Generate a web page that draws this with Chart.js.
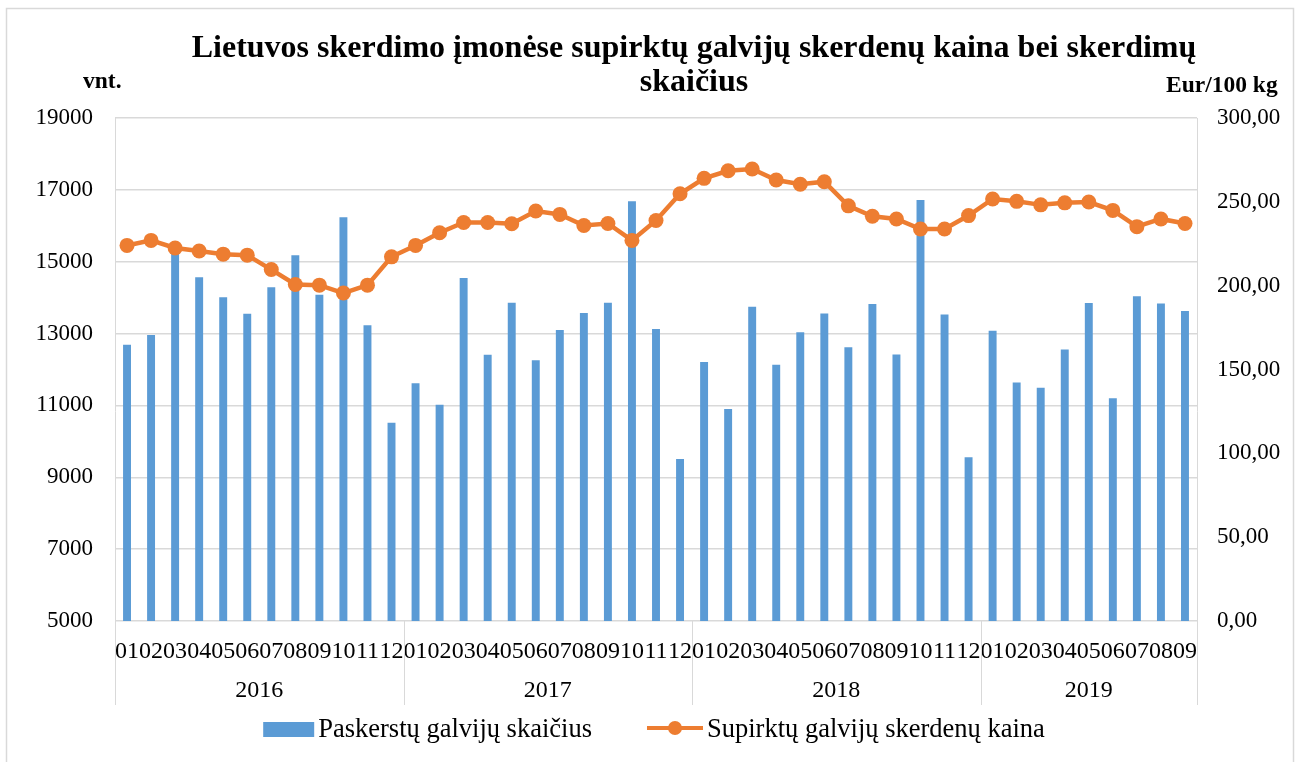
<!DOCTYPE html>
<html>
<head>
<meta charset="utf-8">
<script src="https://cdn.jsdelivr.net/npm/chart.js@4"></script>
<style>
  html, body { margin: 0; padding: 0; background: #fff; }
</style>
</head>
<body>
<canvas id="chart-1" width="1302" height="762"></canvas>
<script>
// months shown under each bar, grouped by year
const monthLabels = ["01", "02", "03", "04", "05", "06", "07", "08", "09", "10", "11", "12"];
const years = ["2016", "2017", "2018", "2019"];
const monthsPerYear = [12, 12, 12, 9];

// Paskerstų galvijų skaičius (vnt.)
const slaughtered = [
  12690, 12960, 15370, 14570, 14010, 13550, 14290, 15180, 14080, 16240, 13230, 10520,
  11620, 11020, 14550, 12410, 13860, 12260, 13100, 13570, 13860, 16680, 13130, 9510,
  12210, 10900, 13750, 12130, 13040, 13560, 12620, 13820, 12420, 16720, 13530, 9560,
  13080, 11640, 11490, 12560, 13850, 11200, 14040, 13840, 13630,
];

// Supirktų galvijų skerdenų kaina (Eur/100 kg)
const price = [
  224.0, 227.0, 222.5, 220.7, 218.8, 218.2, 209.6, 200.7, 200.3, 195.6, 200.3, 217.2,
  224.0, 231.6, 237.7, 237.7, 236.9, 244.5, 242.5, 235.9, 237.1, 227.0, 238.9, 254.8,
  264.0, 268.5, 269.6, 263.0, 260.5, 262.0, 247.6, 241.4, 239.8, 233.8, 233.8, 241.8,
  251.7, 250.3, 248.2, 249.4, 249.9, 244.9, 235.2, 239.8, 237.1,
];

const titleLines = [
  "Lietuvos skerdimo įmonėse supirktų galvijų skerdenų kaina bei skerdimų",
  "skaičius",
];
const leftUnit = "vnt.";
const rightUnit = "Eur/100 kg";

const barColor = "#5b9bd5";
const lineColor = "#ed7d31";
const gridColor = "#d9d9d9";
const serif = "'Liberation Serif', 'Times New Roman', serif";

// category labels built from the month list
const labels = [];
monthsPerYear.forEach((n) => {
  for (let i = 0; i < n; i++) labels.push(monthLabels[i]);
});

// extra drawing: title, units, year row, separators, legend, outer frame
const decor = {
  id: "decor",
  afterDraw(chart) {
    const ctx = chart.ctx;
    const area = chart.chartArea;
    const xs = chart.scales.x;
    const axisBottom = xs.bottom;
    ctx.save();

    // outer frame
    ctx.strokeStyle = gridColor;
    ctx.lineWidth = 1.5;
    ctx.strokeRect(6.5, 8.5, 1287, 800);

    // title
    ctx.fillStyle = "#000";
    ctx.textAlign = "center";
    ctx.textBaseline = "alphabetic";
    ctx.font = "bold 32px " + serif;
    ctx.fillText(titleLines[0], 694, 57);
    ctx.fillText(titleLines[1], 694, 91);

    // axis units
    ctx.font = "bold 23.5px " + serif;
    ctx.textAlign = "left";
    ctx.fillText(leftUnit, 83, 88);
    ctx.fillText(rightUnit, 1166, 92);

    // group separators and years
    ctx.strokeStyle = gridColor;
    ctx.lineWidth = 1;
    const vline = (x, y0, y1) => {
      ctx.beginPath();
      ctx.moveTo(Math.round(x) + 0.5, y0);
      ctx.lineTo(Math.round(x) + 0.5, y1);
      ctx.stroke();
    };
    vline(area.left, area.top, axisBottom);
    vline(area.right, area.top, axisBottom);
    ctx.font = "24px " + serif;
    ctx.textAlign = "center";
    ctx.textBaseline = "middle";
    let start = 0;
    years.forEach((yr, i) => {
      const end = start + monthsPerYear[i] - 1;
      const left = start === 0 ? area.left
        : (xs.getPixelForValue(start - 1) + xs.getPixelForValue(start)) / 2;
      const right = end === labels.length - 1 ? area.right
        : (xs.getPixelForValue(end) + xs.getPixelForValue(end + 1)) / 2;
      if (end < labels.length - 1) vline(right, area.bottom, axisBottom);
      ctx.fillText(yr, (left + right) / 2, 691);
      start = end + 1;
    });

    // legend
    const items = chart.data.datasets.map((d) => d.label);
    ctx.font = "26.5px " + serif;
    const sw = [51, 56];
    const gap = 4;
    const between = 55;
    const widths = items.map((t, i) => sw[i] + gap + ctx.measureText(t).width);
    let lx = 654 - (widths[0] + widths[1] + between) / 2;
    const ly = 729;
    ctx.textAlign = "left";
    ctx.textBaseline = "middle";
    // bar swatch
    ctx.fillStyle = barColor;
    ctx.fillRect(lx, ly - 7, sw[0], 15);
    ctx.fillStyle = "#000";
    ctx.fillText(items[0], lx + sw[0] + gap, ly + 1);
    lx += widths[0] + between;
    // line swatch
    ctx.strokeStyle = lineColor;
    ctx.lineWidth = 4;
    ctx.beginPath();
    ctx.moveTo(lx, ly - 1);
    ctx.lineTo(lx + sw[1], ly - 1);
    ctx.stroke();
    ctx.fillStyle = lineColor;
    ctx.beginPath();
    ctx.arc(lx + sw[1] / 2, ly - 1, 7, 0, Math.PI * 2);
    ctx.fill();
    ctx.fillStyle = "#000";
    ctx.fillText(items[1], lx + sw[1] + gap, ly + 1);

    ctx.restore();
  },
};

const ctx = document.getElementById("chart-1").getContext("2d");
const myChart = new Chart(ctx, {
  type: "bar",
  data: {
    labels: labels,
    datasets: [
      {
        type: "bar",
        label: "Paskerstų galvijų skaičius",
        data: slaughtered,
        backgroundColor: barColor,
        yAxisID: "y",
        barPercentage: 0.33,
        categoryPercentage: 1,
        order: 2,
      },
      {
        type: "line",
        label: "Supirktų galvijų skerdenų kaina",
        data: price,
        borderColor: lineColor,
        backgroundColor: lineColor,
        borderWidth: 4.5,
        pointRadius: 7.5,
        pointBorderWidth: 0,
        pointBackgroundColor: lineColor,
        tension: 0,
        yAxisID: "y1",
        order: 1,
      },
    ],
  },
  options: {
    responsive: false,
    animation: false,
    layout: { padding: { top: 118, bottom: 57, left: 0, right: 0 } },
    plugins: {
      legend: { display: false },
      title: { display: false },
      tooltip: { enabled: false },
    },
    scales: {
      x: {
        offset: true,
        grid: { display: false, drawTicks: false },
        border: { display: false },
        ticks: {
          autoSkip: false,
          maxRotation: 0,
          padding: 16,
          color: "#000",
          font: { family: serif, size: 24 },
        },
        afterFit: (s) => { s.height = 84; },
      },
      y: {
        position: "left",
        min: 5000,
        max: 19000,
        ticks: {
          stepSize: 2000,
          padding: 22,
          color: "#000",
          font: { family: serif, size: 23 },
          callback: (v) => String(v),
        },
        grid: { color: gridColor, lineWidth: 1.5, drawTicks: false },
        border: { display: false },
        afterFit: (s) => { s.width = 115; },
      },
      y1: {
        position: "right",
        min: 0,
        max: 300,
        ticks: {
          stepSize: 50,
          padding: 20,
          color: "#000",
          font: { family: serif, size: 23 },
          callback: (v) => v.toFixed(2).replace(".", ","),
        },
        grid: { drawOnChartArea: false, drawTicks: false },
        border: { display: false },
        afterFit: (s) => { s.width = 105; },
      },
    },
  },
  plugins: [decor],
});
</script>
</body>
</html>
